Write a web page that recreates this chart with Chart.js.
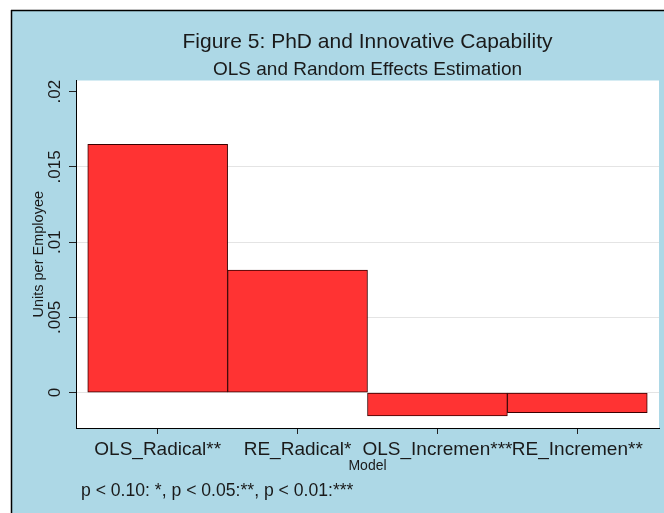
<!DOCTYPE html>
<html>
<head>
<meta charset="utf-8">
<script src="https://cdn.jsdelivr.net/npm/chart.js@4"></script>
<style>
  html, body { margin: 0; padding: 0; background: #ffffff; }
  canvas { display: block; }
</style>
</head>
<body>
<canvas id="c" width="664" height="513"></canvas>
<script>
// ---- data ----
const categories = ["OLS_Radical**", "RE_Radical*", "OLS_Incremen***", "RE_Incremen**"];
const values = [0.0165, 0.00815, -0.00155, -0.00133];
const yTickValues = [0, 0.005, 0.01, 0.015, 0.02];
const yTickLabels = ["0", ".005", ".01", ".015", ".02"];
const yRange = [-0.00235, 0.02074];
const xRange = [0.416, 4.584];
const titleText = "Figure 5: PhD and Innovative Capability";
const subtitleText = "OLS and Random Effects Estimation";
const yAxisTitle = "Units per Employee";
const xAxisTitle = "Model";
const noteText = "p < 0.10: *, p < 0.05:**, p < 0.01:***";

const FONT = "'Liberation Sans', Arial, Helvetica, sans-serif";
const BG = "#add8e6";

const points = categories.map((c, i) => ({ x: i + 1, y: values[i] }));

const framePlugin = {
  id: 'frame',
  beforeDraw(chart) {
    const { ctx, width, height, chartArea } = chart;
    ctx.save();
    ctx.fillStyle = '#ffffff';
    ctx.fillRect(0, 0, width, height);
    ctx.fillStyle = BG;
    ctx.fillRect(11, 10, width - 11, height - 10);
    ctx.strokeStyle = '#000000';
    ctx.lineWidth = 1.5;
    ctx.beginPath();
    ctx.moveTo(11, 10.5); ctx.lineTo(width, 10.5);
    ctx.moveTo(11.5, 10); ctx.lineTo(11.5, height);
    ctx.stroke();
    ctx.fillStyle = '#ffffff';
    ctx.fillRect(chartArea.left, chartArea.top, chartArea.right - chartArea.left, chartArea.bottom - chartArea.top);
    ctx.restore();
  },
  afterDraw(chart) {
    const { ctx, chartArea } = chart;
    const cx = (chartArea.left + chartArea.right) / 2;
    ctx.save();
    ctx.fillStyle = '#1a1a1a';
    ctx.textBaseline = 'alphabetic';
    ctx.textAlign = 'center';
    ctx.font = "21px " + FONT;
    ctx.fillText(titleText, cx, 47.7);
    ctx.font = "19px " + FONT;
    ctx.fillText(subtitleText, cx, 75);
    ctx.textAlign = 'left';
    ctx.font = "17.6px " + FONT;
    ctx.fillText(noteText, chartArea.left + 5, 495.5);
    ctx.restore();
  }
};

new Chart(document.getElementById('c'), {
  type: 'bar',
  data: {
    datasets: [{
      data: points,
      backgroundColor: '#ff3333',
      borderColor: '#3a0000',
      borderWidth: 1,
      borderSkipped: false,
      barPercentage: 1,
      categoryPercentage: 1
    }]
  },
  options: {
    responsive: false,
    devicePixelRatio: 1,
    animation: false,
    layout: { padding: { top: 80.5, right: 5, bottom: 35, left: 0 } },
    plugins: {
      legend: { display: false },
      title: { display: false },
      tooltip: { enabled: false }
    },
    scales: {
      x: {
        type: 'linear',
        offset: false,
        min: xRange[0],
        max: xRange[1],
        afterBuildTicks(scale) {
          scale.ticks = categories.map((c, i) => ({ value: i + 1 }));
        },
        afterFit(scale) { scale.height = 50; },
        grid: { offset: false, drawOnChartArea: false, drawTicks: true, tickLength: 6, tickColor: '#222222' },
        border: { display: true, color: '#000000', width: 1 },
        ticks: {
          autoSkip: false,
          maxRotation: 0,
          minRotation: 0,
          padding: 4,
          color: '#1a1a1a',
          font: { family: FONT, size: 19 },
          callback: (v) => categories[Math.round(v) - 1]
        },
        title: {
          display: true,
          text: xAxisTitle,
          color: '#1a1a1a',
          font: { family: FONT, size: 14 },
          padding: { top: 0, bottom: 3.8 }
        }
      },
      y: {
        type: 'linear',
        min: yRange[0],
        max: yRange[1],
        afterBuildTicks(scale) {
          scale.ticks = yTickValues.map(v => ({ value: v }));
        },
        afterFit(scale) { scale.width = 76; },
        grid: {
          color: (ctx) => (ctx.tick && ctx.tick.value === 0.02) ? 'rgba(0,0,0,0)' : '#e4e4e4',
          lineWidth: 1,
          drawTicks: true,
          tickLength: 7,
          tickColor: '#222222'
        },
        border: { display: true, color: '#000000', width: 1 },
        ticks: {
          autoSkip: false,
          minRotation: 90,
          maxRotation: 90,
          crossAlign: 'center',
          padding: -3,
          color: '#1a1a1a',
          font: { family: FONT, size: 17 },
          callback: (v) => {
            const i = yTickValues.indexOf(v);
            return i >= 0 ? yTickLabels[i] : '';
          }
        },
        title: {
          display: true,
          text: yAxisTitle,
          color: '#1a1a1a',
          font: { family: FONT, size: 14.5 },
          padding: { top: 30.2, bottom: 0 }
        }
      }
    }
  },
  plugins: [framePlugin]
});
</script>
</body>
</html>
